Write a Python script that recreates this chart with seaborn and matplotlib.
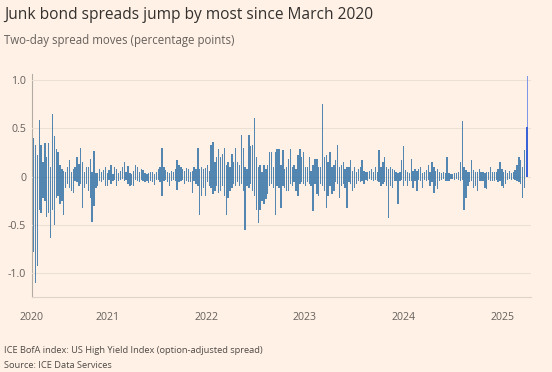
import pandas as pd
import seaborn as sns
import matplotlib.pyplot as plt
import matplotlib.dates as mdates
from matplotlib.ticker import FixedLocator, FixedFormatter

# ----------------------------
# Data: per week (Tuesdays from 24 Mar 2020), largest widening and
# largest tightening two-day move of the HY spread, percentage points
# ----------------------------
widen_2020 = [0.47, 0.40, 0.33, 0.22, 0.58, 0.33, 0.15, 0.35, 0.20, 0.35,
              0.10, 0.65, 0.42, 0.28, 0.25, 0.12, 0.08, 0.06, 0.05, 0.10,
              0.17, 0.05, 0.08, 0.10, 0.20, 0.13, 0.29, 0.15, 0.05, 0.10,
              0.10, 0.18, 0.05, 0.26, 0.04, 0.04, 0.08, 0.05, 0.07, 0.10,
              0.04]
tighten_2020 = [-1.24, -0.78, -1.10, -0.92, -0.35, -0.38, -0.22, -0.25, -0.42, -0.38,
                -0.63, -0.35, -0.50, -0.22, -0.20, -0.28, -0.25, -0.40, -0.12, -0.08,
                -0.12, -0.15, -0.17, -0.05, -0.06, -0.10, -0.08, -0.32, -0.12, -0.08,
                -0.15, -0.22, -0.47, -0.30, -0.12, -0.10, -0.05, -0.06, -0.04, -0.10,
                -0.10]

widen_2021 = [0.07, 0.12, 0.03, 0.10, 0.08, 0.04, 0.06, 0.10, 0.15, 0.05,
              0.11, 0.04, 0.03, 0.06, 0.12, 0.10, 0.05, 0.08, 0.07, 0.04,
              0.03, 0.04, 0.05, 0.05, 0.03, 0.05, 0.08, 0.10, 0.30, 0.10,
              0.07, 0.05, 0.04, 0.06, 0.05, 0.08, 0.17, 0.12, 0.10, 0.08,
              0.06, 0.09, 0.08, 0.05, 0.06, 0.10, 0.08, 0.29, 0.08, 0.10,
              0.08, 0.09]
tighten_2021 = [-0.04, -0.08, -0.05, -0.04, -0.10, -0.05, -0.04, -0.03, -0.05, -0.04,
                -0.08, -0.10, -0.09, -0.10, -0.04, -0.05, -0.06, -0.04, -0.05, -0.06,
                -0.05, -0.07, -0.05, -0.06, -0.09, -0.04, -0.04, -0.06, -0.20, -0.05,
                -0.04, -0.06, -0.10, -0.05, -0.04, -0.05, -0.14, -0.06, -0.05, -0.04,
                -0.08, -0.05, -0.06, -0.06, -0.17, -0.05, -0.08, -0.10, -0.40, -0.20,
                -0.12, -0.20]

widen_2022 = [0.12, 0.06, 0.33, 0.36, 0.15, 0.20, 0.28, 0.20, 0.23, 0.29,
              0.12, 0.15, 0.10, 0.23, 0.15, 0.29, 0.15, 0.12, 0.43, 0.30,
              0.10, 0.08, 0.43, 0.32, 0.33, 0.60, 0.20, 0.10, 0.12, 0.05,
              0.12, 0.08, 0.12, 0.25, 0.25, 0.10, 0.25, 0.28, 0.28, 0.12,
              0.27, 0.08, 0.10, 0.18, 0.28, 0.10, 0.12, 0.08, 0.22, 0.28,
              0.20, 0.25]
tighten_2022 = [-0.06, -0.10, -0.12, -0.18, -0.15, -0.10, -0.17, -0.15, -0.10, -0.20,
                -0.40, -0.22, -0.15, -0.12, -0.08, -0.10, -0.06, -0.10, -0.08, -0.15,
                -0.55, -0.10, -0.12, -0.08, -0.15, -0.20, -0.35, -0.48, -0.35, -0.25,
                -0.28, -0.23, -0.18, -0.10, -0.08, -0.12, -0.40, -0.10, -0.12, -0.32,
                -0.10, -0.12, -0.15, -0.15, -0.08, -0.10, -0.06, -0.15, -0.20, -0.08,
                -0.06, -0.08]

widen_2023 = [0.10, 0.10, 0.20, 0.06, 0.12, 0.18, 0.18, 0.10, 0.10, 0.75,
              0.20, 0.22, 0.15, 0.25, 0.10, 0.12, 0.17, 0.33, 0.10, 0.12,
              0.15, 0.08, 0.10, 0.10, 0.17, 0.06, 0.10, 0.05, 0.08, 0.10,
              0.17, 0.06, 0.05, 0.05, 0.06, 0.08, 0.05, 0.10, 0.05, 0.27,
              0.10, 0.15, 0.20, 0.10, 0.08, 0.10, 0.08, 0.07, 0.05, 0.04,
              0.05, 0.17]
tighten_2023 = [-0.10, -0.06, -0.08, -0.10, -0.36, -0.08, -0.18, -0.20, -0.08, -0.10,
                -0.15, -0.32, -0.20, -0.10, -0.18, -0.15, -0.06, -0.08, -0.22, -0.10,
                -0.08, -0.12, -0.32, -0.06, -0.08, -0.15, -0.12, -0.08, -0.05, -0.06,
                -0.05, -0.08, -0.04, -0.05, -0.03, -0.04, -0.05, -0.04, -0.05, -0.06,
                -0.10, -0.08, -0.06, -0.10, -0.43, -0.10, -0.12, -0.05, -0.05, -0.28,
                -0.05, -0.04]

widen_2024 = [0.32, 0.07, 0.05, 0.04, 0.18, 0.06, 0.08, 0.06, 0.08, 0.10,
              0.04, 0.05, 0.07, 0.12, 0.05, 0.15, 0.10, 0.06, 0.08, 0.05,
              0.04, 0.05, 0.04, 0.20, 0.04, 0.03, 0.03, 0.04, 0.04, 0.05,
              0.15, 0.57, 0.10, 0.07, 0.05, 0.05, 0.17, 0.07, 0.05, 0.05,
              0.08, 0.05, 0.05, 0.04, 0.05, 0.05, 0.10, 0.05, 0.05, 0.05,
              0.08, 0.15, 0.08]
tighten_2024 = [-0.10, -0.05, -0.10, -0.05, -0.05, -0.12, -0.05, -0.15, -0.04, -0.05,
                -0.12, -0.04, -0.05, -0.04, -0.10, -0.06, -0.17, -0.10, -0.13, -0.05,
                -0.04, -0.03, -0.05, -0.05, -0.05, -0.03, -0.03, -0.04, -0.03, -0.04,
                -0.05, -0.04, -0.35, -0.22, -0.10, -0.06, -0.05, -0.12, -0.10, -0.15,
                -0.05, -0.05, -0.05, -0.12, -0.13, -0.04, -0.05, -0.05, -0.05, -0.04,
                -0.06, -0.05, -0.10]

widen_2025 = [0.05, 0.07, 0.04, 0.06, 0.04, 0.05, 0.07, 0.12, 0.20, 0.17,
              0.10, 0.27]
tighten_2025 = [-0.12, -0.08, -0.04, -0.03, -0.04, -0.03, -0.04, -0.05, -0.06, -0.08,
                -0.22, -0.12]

# the April 2025 jump, highlighted
april_dates = ["2025-04-04", "2025-04-03"]
april_moves = [1.04, 0.51]

year_labels = ["2020", "2021", "2022", "2023", "2024", "2025"]
y_ticks = [-1.0, -0.5, 0, 0.5, 1.0]
y_labels = ["-1.0", "-0.5", "0", "0.5", "1.0"]

# ----------------------------
# Styling
# ----------------------------
BG = "#fff1e5"
BLUE = "#3573a8"
GRID = "#ecdfd3"
TXT = "#33302e"
GREY = "#66605c"

sns.set_theme(style="white")
plt.rcParams["font.family"] = ["Open Sans", "DejaVu Sans"]

widen = widen_2020 + widen_2021 + widen_2022 + widen_2023 + widen_2024 + widen_2025
tighten = tighten_2020 + tighten_2021 + tighten_2022 + tighten_2023 + tighten_2024 + tighten_2025
weeks = pd.date_range("2020-03-24", periods=len(widen), freq="7D")

weekly = pd.DataFrame({"x": mdates.date2num(weeks), "up": widen, "down": tighten})
april = pd.DataFrame({
    "x": mdates.date2num(pd.to_datetime(april_dates)),
    "move": april_moves,
    "day": april_dates,
})

fig = plt.figure(figsize=(5.52, 3.72), dpi=100, facecolor=BG)
ax = fig.add_axes([0.0574, 0.2016, 0.9046, 0.5995])
ax.set_facecolor(BG)

for col in ["up", "down"]:
    sns.barplot(data=weekly, x="x", y=col, native_scale=True, orient="x",
                color=BLUE, saturation=1, width=0.72, linewidth=0, alpha=0.85,
                errorbar=None, ax=ax)

sns.barplot(data=april, x="x", y="move", hue="day", hue_order=april_dates,
            palette=["#7f97e8", "#3a62d9"], dodge=False, native_scale=True,
            orient="x", saturation=1, width=4, linewidth=0, errorbar=None,
            legend=False, ax=ax)

ax.set_xlim(mdates.date2num(pd.Timestamp("2020-03-24")),
            mdates.date2num(pd.Timestamp("2025-04-18")))
ax.set_ylim(-1.245, 1.06)
ax.set_xlabel("")
ax.set_ylabel("")

# axes, grid and ticks
ax.set_axisbelow(True)
ax.yaxis.grid(True, color=GRID, linewidth=0.8)
ax.xaxis.grid(False)
for side in ["top", "right"]:
    ax.spines[side].set_visible(False)
ax.spines["left"].set_color("#b3aca5")
ax.spines["left"].set_linewidth(0.8)
ax.spines["left"].set_zorder(0.5)
ax.spines["bottom"].set_color("#ddd3c9")
ax.spines["bottom"].set_linewidth(0.8)

ax.set_yticks(y_ticks, y_labels)
ax.tick_params(axis="y", length=0, pad=4, labelsize=7.7, labelcolor=GREY)

major = [pd.Timestamp("2020-03-24")] + [pd.Timestamp(f"{y}-01-01") for y in year_labels[1:]]
ax.xaxis.set_major_locator(FixedLocator(mdates.date2num(major)))
ax.xaxis.set_major_formatter(FixedFormatter(year_labels))
ax.xaxis.set_minor_locator(mdates.MonthLocator())
ax.tick_params(axis="x", which="major", length=7, width=0.8, color="#ddd3c9",
               pad=4, labelsize=7.6, labelcolor=GREY)
ax.tick_params(axis="x", which="minor", length=5, width=0.8, color="#ddd3c9")

# titles and notes
fig.text(0.007, 0.948, "Junk bond spreads jump by most since March 2020",
         fontsize=11.2, color=TXT, va="baseline")
fig.text(0.007, 0.882, "Two-day spread moves (percentage points)",
         fontsize=8.3, color=GREY, va="baseline")
fig.text(0.007, 0.0516, "ICE BofA index: US High Yield Index (option-adjusted spread)",
         fontsize=6.7, color="#4f4a46", va="baseline")
fig.text(0.007, 0.0118, "Source: ICE Data Services",
         fontsize=6.7, color="#4f4a46", va="baseline")

fig.savefig("out.png", dpi=100, facecolor=BG)
